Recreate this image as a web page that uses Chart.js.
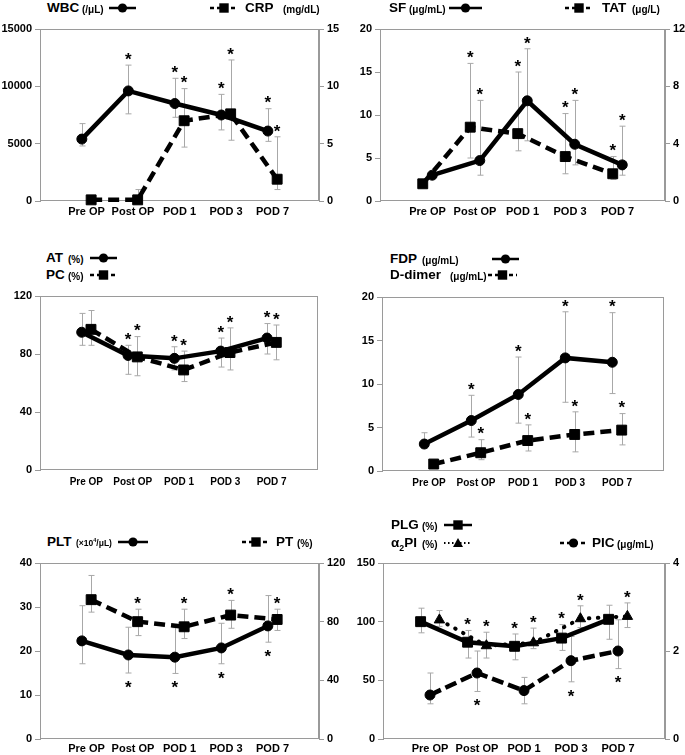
<!DOCTYPE html>
<html>
<head>
<meta charset="utf-8">
<script src="https://cdn.jsdelivr.net/npm/chart.js@4.4.1/dist/chart.umd.min.js"></script>
<style>
  body { margin: 0; background: #fff; }
  #fig { position: relative; width: 685px; height: 755px; overflow: hidden;
         font-family: "Liberation Sans", Arial, sans-serif; font-weight: bold; color: #000; }
  #fig canvas { position: absolute; }
  .t { position: absolute; white-space: nowrap; line-height: 1; }
  .t sub, .t sup { font-size: 65%; line-height: 0; }
</style>
</head>
<body>
<div id="fig"></div>
<script>
const categories = ['Pre OP', 'Post OP', 'POD 1', 'POD 3', 'POD 7'];

// WBC / CRP
const wbc = [5400, 9600, 8500, 7500, 6100];
const wbcHi = [6750, 11850, 10700, 9300, 8050];
const wbcLo = [4800, 7600, 7300, 6200, 5200];
const wbcStar = [0, 1, 1, 1, 1];
const crp = [0.1, 0.1, 7.0, 7.6, 1.9];
const crpHi = [null, 1.0, 9.8, 12.3, 5.6];
const crpLo = [null, null, 4.7, 5.3, 1.0];
const crpStar = [0, 0, 1, 1, 1];

// SF / TAT
const sf = [3.0, 4.7, 11.65, 6.6, 4.2];
const sfHi = [null, 11.7, 17.7, 11.7, 8.7];
const sfLo = [null, 3.0, 7.0, 4.2, 3.0];
const sfStar = [0, 1, 1, 1, 1];
const tat = [1.2, 5.15, 4.7, 3.1, 1.9];
const tatHi = [null, 9.6, 9.0, 6.1, 3.1];
const tatLo = [null, 3.0, 3.5, 1.9, 1.5];
const tatStar = [0, 1, 1, 1, 1];

// AT / PC
const at = [95, 79, 77, 82, 91];
const atHi = [108, 86, 85, 91, 101];
const atLo = [86, 66, 69, 71, 80];
const atStar = [0, 1, 1, 1, 1];
const pc = [97, 78, 69, 81, 88];
const pcHi = [110, 92, 82, 98, 100];
const pcLo = [86, 65, 61, 69, 76];
const pcStar = [0, 1, 1, 1, 1];

// FDP / D-dimer
const fdp = [3.1, 5.8, 8.8, 13.0, 12.5];
const fdpHi = [4.4, 8.7, 13.1, 18.3, 18.2];
const fdpLo = [2.6, 3.9, 5.5, 7.9, 8.9];
const fdpStar = [0, 1, 1, 1, 1];
const ddimer = [0.8, 2.1, 3.5, 4.2, 4.7];
const ddimerHi = [null, 3.6, 5.3, 6.8, 6.6];
const ddimerLo = [null, 1.3, 2.3, 2.2, 3.0];
const ddimerStar = [0, 1, 1, 1, 1];

// PLT / PT
const plt = [22.3, 19.1, 18.6, 20.7, 25.7];
const pltHi = [30.3, 25.4, 25.3, 26.3, 32.6];
const pltLo = [17.1, 15.0, 14.9, 17.1, 22.0];
const pltStar = [0, -1, -1, -1, -1];
const pt = [95, 80, 76.5, 84.5, 81.5];
const ptHi = [111.5, 88.5, 88.5, 94.5, 88.5];
const ptLo = [86.5, 70.5, 68.5, 75.5, 74];
const ptStar = [0, 1, 1, 1, 1];

// PLG / a2PI / PIC
const plg = [100, 82.5, 79, 86, 102];
const plgHi = [111.5, 92.5, 89.5, 97.5, 114];
const plgLo = [90.5, 69, 67.5, 75.5, 85];
const plgStar = [0, 1, 1, 1, 0];
const a2pi = [101.5, 79.5, 82, 102.5, 104.5];
const a2piHi = [109.5, 91, 94.5, 113.5, 116];
const a2piLo = [96, 69, 77, 95, 95];
const a2piStar = [0, 1, 1, 1, 1];
const pic = [1.0, 1.5, 1.1, 1.78, 2.0];
const picHi = [1.5, 2.0, 1.4, 2.33, 2.71];
const picLo = [0.8, 1.08, 0.8, 1.3, 1.6];
const picStar = [0, -1, 0, -1, -1];

const FONT = '"Liberation Sans", Arial, sans-serif';
const fig = document.getElementById('fig');

// gray box round the plot area
const frame = {
    id: 'frame',
    beforeDatasetsDraw(chart) {
        const a = chart.chartArea, ctx = chart.ctx;
        ctx.save();
        ctx.strokeStyle = '#9a9a9a';
        ctx.lineWidth = 1;
        ctx.strokeRect(Math.round(a.left) + 0.5, Math.round(a.top) + 0.5,
            Math.round(a.right - a.left) - 1, Math.round(a.bottom - a.top) - 1);
        ctx.restore();
    }
};

// error bars under the lines, asterisks on top
const errorBars = {
    id: 'errorBars',
    beforeDatasetsDraw(chart) {
        const ctx = chart.ctx, xs = chart.scales.x;
        ctx.save();
        ctx.strokeStyle = '#a8a8a8';
        ctx.lineWidth = 1;
        chart.data.datasets.forEach(ds => {
            const ys = chart.scales[ds.yAxisID];
            ds.data.forEach((p, i) => {
                const hi = ds.errHi[i], lo = ds.errLo[i];
                if (hi == null && lo == null) return;
                const x = Math.round(xs.getPixelForValue(p.x)) + 0.5;
                const y = ys.getPixelForValue(p.y);
                const yHi = hi == null ? y : ys.getPixelForValue(hi);
                const yLo = lo == null ? y : ys.getPixelForValue(lo);
                ctx.beginPath();
                ctx.moveTo(x, yHi);
                ctx.lineTo(x, yLo);
                if (hi != null) { ctx.moveTo(x - 3, yHi); ctx.lineTo(x + 3, yHi); }
                if (lo != null) { ctx.moveTo(x - 3, yLo); ctx.lineTo(x + 3, yLo); }
                ctx.stroke();
            });
        });
        ctx.restore();
    },
    afterDatasetsDraw(chart) {
        const ctx = chart.ctx, xs = chart.scales.x;
        ctx.save();
        ctx.fillStyle = '#000';
        ctx.font = 'bold 17px ' + FONT;
        ctx.textAlign = 'center';
        ctx.textBaseline = 'alphabetic';
        chart.data.datasets.forEach(ds => {
            const ys = chart.scales[ds.yAxisID];
            ds.data.forEach((p, i) => {
                const s = ds.stars[i];
                if (!s) return;
                const x = xs.getPixelForValue(p.x);
                let yc;
                if (s > 0) yc = ys.getPixelForValue(ds.errHi[i] != null ? ds.errHi[i] : p.y) - 10;
                else yc = ys.getPixelForValue(ds.errLo[i] != null ? ds.errLo[i] : p.y) + 10;
                ctx.fillText('*', x, yc + 9.8);
            });
        });
        ctx.restore();
    }
};

const series = (label, vals, hi, lo, stars, off, axis, st) => ({
    label: label,
    data: vals.map((v, i) => ({ x: i + 1 + off, y: v })),
    errHi: hi, errLo: lo, stars: stars,
    yAxisID: axis,
    borderColor: '#000',
    backgroundColor: '#000',
    borderWidth: st.w || 4.5,
    borderDash: st.dash || [],
    borderCapStyle: st.cap || 'butt',
    pointStyle: st.pt,
    pointRadius: st.r,
    pointBorderWidth: 1,
    tension: 0,
    clip: false
});

const yScale = (cfg, pos, width) => ({
    type: 'linear',
    position: pos,
    min: cfg[0], max: cfg[1],
    afterFit: s => { s.width = width; },
    ticks: { stepSize: cfg[2], color: '#000', padding: 3,
             font: { size: 11, weight: 'bold', family: FONT },
             callback: v => String(v) },
    grid: { drawOnChartArea: false, tickLength: 5, color: '#9a9a9a' },
    border: { color: '#9a9a9a' }
});

const panel = (box, left, right, sets, xPad, xSize) => {
    const c = document.createElement('canvas');
    c.width = box.r - box.l + 70;
    c.height = box.b - box.t + 32;
    c.style.left = (box.l - 40) + 'px';
    c.style.top = (box.t - 14) + 'px';
    fig.appendChild(c);
    const scales = {
        x: {
            type: 'linear', min: 0, max: 6,
            afterFit: s => { s.height = 18; },
            afterBuildTicks: s => { s.ticks = [1, 2, 3, 4, 5].map(v => ({ value: v })); },
            ticks: { autoSkip: false, maxRotation: 0, color: '#000', padding: xPad,
                     font: { size: xSize, weight: 'bold', family: FONT },
                     callback: v => categories[v - 1] || '' },
            grid: { display: false, drawTicks: false },
            border: { display: false }
        },
        y: yScale(left, 'left', 40)
    };
    if (right) scales.y2 = yScale(right, 'right', 30);
    new Chart(c, {
        type: 'line',
        data: { datasets: sets },
        options: {
            responsive: false,
            animation: false,
            layout: { padding: { top: 14, right: right ? 0 : 30, left: 0, bottom: 0 } },
            plugins: { legend: { display: false }, tooltip: { enabled: false } },
            scales: scales
        },
        plugins: [frame, errorBars]
    });
};

const solidCircle = { pt: 'circle', r: 5 };
const solidRect = { pt: 'rect', r: 7 };
const dashRect = { pt: 'rect', r: 7, dash: [11, 6] };
const dashCircle = { pt: 'circle', r: 5, dash: [12, 5] };
const dotTri = { pt: 'triangle', r: 6, w: 4, dash: [0.5, 8.5], cap: 'round' };

panel({ l: 40, t: 29, r: 319, b: 201 }, [0, 15000, 5000], [0, 15, 5], [
    series('WBC', wbc, wbcHi, wbcLo, wbcStar, -0.1, 'y', solidCircle),
    series('CRP', crp, crpHi, crpLo, crpStar, 0.1, 'y2', dashRect)
], 4, 11);

panel({ l: 380, t: 29, r: 665, b: 201 }, [0, 20, 5], [0, 12, 4], [
    series('SF', sf, sfHi, sfLo, sfStar, 0.1, 'y', solidCircle),
    series('TAT', tat, tatHi, tatLo, tatStar, -0.1, 'y2', dashRect)
], 4, 11);

panel({ l: 40, t: 296, r: 318, b: 470 }, [0, 120, 40], null, [
    series('AT', at, atHi, atLo, atStar, -0.1, 'y', solidCircle),
    series('PC', pc, pcHi, pcLo, pcStar, 0.1, 'y', dashRect)
], 6, 10);

panel({ l: 382, t: 297, r: 664, b: 471 }, [0, 20, 5], null, [
    series('FDP', fdp, fdpHi, fdpLo, fdpStar, -0.1, 'y', solidCircle),
    series('D-dimer', ddimer, ddimerHi, ddimerLo, ddimerStar, 0.1, 'y', dashRect)
], 6, 10);

panel({ l: 40, t: 563, r: 319, b: 739 }, [0, 40, 10], [0, 120, 40], [
    series('PLT', plt, pltHi, pltLo, pltStar, -0.1, 'y', solidCircle),
    series('PT', pt, ptHi, ptLo, ptStar, 0.1, 'y2', dashRect)
], 3, 11);

panel({ l: 383, t: 563, r: 665, b: 739 }, [0, 150, 50], [0, 4, 2], [
    series('PIC', pic, picHi, picLo, picStar, 0, 'y2', dashCircle),
    series('α2PI', a2pi, a2piHi, a2piLo, a2piStar, 0.2, 'y', dotTri),
    series('PLG', plg, plgHi, plgLo, plgStar, -0.2, 'y', solidRect)
], 3, 11);

// legends (HTML text + small svg line samples)
const text = (x, y, html, size) => {
    const d = document.createElement('div');
    d.className = 't';
    d.style.left = x + 'px';
    d.style.top = (y - size * 0.49) + 'px';
    d.style.fontSize = size + 'px';
    d.innerHTML = html;
    fig.appendChild(d);
};
const big = (x, y, html) => text(x, y, html, 13.5);
const unit = (x, y, html, size) => text(x, y + 1.5, html, size || 10);

const swatch = (x, y, w, marker, dash) => {
    const m = w / 2;
    let mk = '';
    if (marker === 'circle') mk = `<circle cx="${m}" cy="7" r="4.6" fill="#000"/>`;
    if (marker === 'rect') mk = `<rect x="${m - 4.7}" y="2.3" width="9.4" height="9.4" fill="#000"/>`;
    if (marker === 'triangle') mk = `<polygon points="${m},2 ${m + 5},11 ${m - 5},11" fill="#000"/>`;
    let da = '';
    if (dash === 'dash') da = 'stroke-dasharray="4 3"';
    if (dash === 'dot') da = 'stroke-dasharray="1.5 2.5"';
    const sw = dash === 'dot' ? 1.8 : 2.5;
    const s = document.createElement('div');
    s.className = 't';
    s.style.left = x + 'px';
    s.style.top = (y - 7) + 'px';
    s.innerHTML = `<svg width="${w}" height="14"><line x1="0" y1="7" x2="${w}" y2="7" stroke="#000" stroke-width="${sw}" ${da}/>${mk}</svg>`;
    fig.appendChild(s);
};

big(47, 8, 'WBC'); unit(82, 8, '(/μL)'); swatch(109, 8, 27, 'circle');
swatch(210, 8, 28, 'rect', 'dash'); big(245, 8, 'CRP'); unit(283, 8, '(mg/dL)');

big(389, 8, 'SF'); unit(409, 8, '(μg/mL)'); swatch(449, 8, 33, 'circle');
swatch(565, 8, 28, 'rect', 'dash'); big(602, 8, 'TAT'); unit(632, 8, '(μg/L)');

big(46, 258, 'AT'); unit(68, 258, '(%)'); swatch(90, 258, 27, 'circle');
big(46, 275, 'PC'); unit(68, 275, '(%)'); swatch(90, 275, 27, 'rect', 'dash');

big(390, 259, 'FDP'); unit(422, 259, '(μg/mL)'); swatch(492, 259, 27, 'circle');
big(390, 275, 'D-dimer'); unit(450, 275, '(μg/mL)'); swatch(488, 275, 29, 'rect', 'dash');

big(47, 542, 'PLT'); unit(76, 542, '(×10<sup>4</sup>/μL)', 8.5); swatch(118, 542, 30, 'circle');
swatch(242, 542, 28, 'rect', 'dash'); big(276, 542, 'PT'); unit(297, 542, '(%)');

big(391, 525, 'PLG'); unit(422, 525, '(%)'); swatch(444, 525, 28, 'rect');
big(391, 543, 'α<sub>2</sub>PI'); unit(422, 543, '(%)'); swatch(444, 543, 28, 'triangle', 'dot');
swatch(560, 543, 27, 'circle', 'dash'); big(592, 543, 'PIC'); unit(617, 543, '(μg/mL)');
</script>
</body>
</html>
